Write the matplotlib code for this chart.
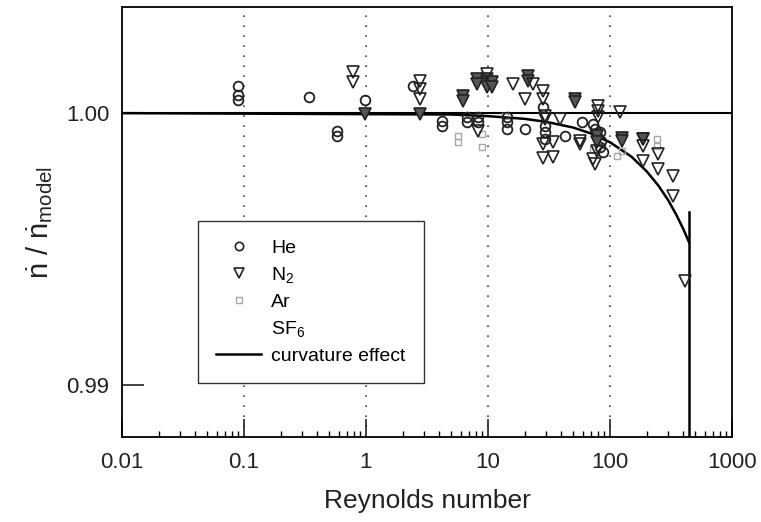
import matplotlib
matplotlib.use("Agg")
import matplotlib.pyplot as plt
from matplotlib.lines import Line2D

plt.rcParams["font.family"] = ["Liberation Sans", "DejaVu Sans"]
plt.rcParams["mathtext.fontset"] = "custom"
plt.rcParams["mathtext.rm"] = "Liberation Sans"
plt.rcParams["mathtext.it"] = "Liberation Sans"

# -----------------------------
# MEASURED DATA (ratio to model)
# -----------------------------
he_re = [0.089, 0.089, 0.089, 0.34, 0.58, 0.58, 0.98, 2.43, 4.2, 4.2,
         6.7, 6.7, 8.3, 8.3, 14.3, 14.3, 14.3, 20.1, 28.5, 29.3, 29.3, 29.3,
         42.8, 58.9, 72.6, 75.0, 78.0, 82.8, 85.0, 82.8, 87.7]
he_ratio = [1.00099, 1.00066, 1.00048, 1.00059, 0.99934, 0.99915, 1.00048, 1.00099, 0.99971, 0.99952,
            0.99985, 0.99967, 0.99985, 0.99967, 0.99985, 0.99967, 0.99941, 0.99941, 1.00022, 0.99952, 0.99930, 0.99904,
            0.99915, 0.99967, 0.99960, 0.99941, 0.99915, 0.99930, 0.99897, 0.99875, 0.99857]

n2_re = [0.78, 0.78, 2.77, 2.77, 2.77, 8.3, 9.8, 16.0, 20.1, 23.4,
         28.3, 28.3, 29.3, 29.3, 28.3, 28.3, 34.1, 34.1, 38.9, 56.8, 56.8,
         72.6, 75.0, 79.7, 79.7, 79.7, 78.2, 121, 186, 186, 186,
         247, 247, 328, 328, 412]
n2_ratio = [1.00150, 1.00114, 1.00118, 1.00088, 1.00051, 0.99934, 1.00143, 1.00107, 1.00051, 1.00107,
            1.00080, 1.00051, 0.99989, 0.99978, 0.99886, 0.99835, 0.99893, 0.99838, 0.99978, 0.99897, 0.99886,
            0.99831, 0.99813, 1.00026, 1.00007, 0.99985, 0.99860, 1.00004, 0.99904, 0.99879, 0.99824,
            0.99849, 0.99794, 0.99768, 0.99695, 0.99382]

ar_re = [5.7, 5.7, 9.0, 9.0, 13.8, 72.6, 114, 125, 243, 243]
ar_ratio = [0.99915, 0.99893, 0.99923, 0.99875, 0.99989, 0.99868, 0.99842, 0.99860, 0.99904, 0.99879]

sf6_re = [0.98, 2.77, 6.2, 6.2, 8.1, 8.1, 9.8, 9.8, 10.8, 10.8,
          21.3, 21.3, 51.7, 51.7, 78.2, 78.2, 125, 125, 186]
sf6_ratio = [0.99996, 0.99996, 1.00063, 1.00044, 1.00125, 1.00107, 1.00125, 1.00096, 1.00114, 1.00096,
             1.00136, 1.00118, 1.00051, 1.00040, 0.99915, 0.99893, 0.99908, 0.99897, 0.99904]

# curvature effect curve
curve_re = [0.01, 5, 10, 20, 30, 50, 70, 100, 150, 200, 250, 300, 350, 400, 445]
curve_ratio = [1.0, 0.99995, 0.99989, 0.99979, 0.99968, 0.99947, 0.99925, 0.99893,
               0.9984, 0.99786, 0.99733, 0.9968, 0.99626, 0.99573, 0.99525]
limit_re = 445
limit_top = 0.99636

xlim = (0.01, 1000)
ylim = (0.9881, 1.0039)

# -----------------------------
# PLOT
# -----------------------------
fig = plt.figure(figsize=(7.61, 5.22), dpi=100)
ax = fig.add_axes([0.1603, 0.1628, 0.8016, 0.8238])

for xv in [0.1, 1, 10, 100]:
    ax.axvline(xv, color="#444444", lw=1.2, linestyle=(0, (1, 5)), zorder=1)
ax.axhline(1.0, color="black", lw=1.5, zorder=2)

ax.plot(curve_re, curve_ratio, color="black", lw=1.8, zorder=3)
ax.plot([limit_re, limit_re], [ylim[0], limit_top], color="black", lw=1.8, zorder=3)

ax.plot(ar_re, ar_ratio, linestyle="none", marker="s", ms=5, mfc="none",
        mec="#a8a8a8", mew=1.0, zorder=4)
ax.plot(he_re, he_ratio, linestyle="none", marker="o", ms=7, mfc="none",
        mec="#222222", mew=1.3, zorder=5)
ax.plot(sf6_re, sf6_ratio, linestyle="none", marker="v", ms=8, mfc="#555555",
        mec="#222222", mew=1.2, zorder=5)
ax.plot(n2_re, n2_ratio, linestyle="none", marker="v", ms=8, mfc="none",
        mec="#222222", mew=1.2, zorder=6)

ax.set_xscale("log")
ax.set_xlim(*xlim)
ax.set_ylim(*ylim)
ax.set_xticks([0.01, 0.1, 1, 10, 100, 1000])
ax.set_xticklabels(["0.01", "0.1", "1", "10", "100", "1000"])
ax.set_yticks([0.99, 1.00])
ax.set_yticklabels(["0.99", "1.00"])
ax.tick_params(axis="x", which="major", direction="in", length=13, width=1.2,
               labelsize=16, pad=11, colors="#222222")
ax.tick_params(axis="x", which="minor", direction="in", length=4, width=1.0)
ax.tick_params(axis="y", which="major", direction="in", length=16, width=1.2,
               labelsize=16, pad=9, colors="#222222")
for sp in ax.spines.values():
    sp.set_linewidth(1.3)

ax.set_xlabel("Reynolds number", fontsize=19, labelpad=11, color="#222222")
ax.set_ylabel(r"$\dot{\mathrm{n}}\ /\ \dot{\mathrm{n}}_{\mathrm{model}}$", fontsize=21,
              labelpad=8, color="#222222")

handles = [
    Line2D([], [], linestyle="none", marker="o", ms=6, mfc="none", mec="#222222", mew=1.2),
    Line2D([], [], linestyle="none", marker="v", ms=7, mfc="none", mec="#222222", mew=1.2),
    Line2D([], [], linestyle="none", marker="s", ms=5, mfc="none", mec="#a8a8a8", mew=1.0),
    Line2D([], [], linestyle="none"),
    Line2D([], [], color="black", lw=1.8),
]
labels = ["He", "N$_2$", "Ar", "SF$_6$", "curvature effect"]
leg = ax.legend(handles, labels, loc="lower left", bbox_to_anchor=(0.1246, 0.1256),
                borderaxespad=0, fontsize=14, handlelength=2.3, handletextpad=0.5,
                labelspacing=0.42, borderpad=0.95, fancybox=False, framealpha=1,
                edgecolor="#333333")
leg.get_frame().set_linewidth(1.0)

fig.savefig("out.png", dpi=100)
